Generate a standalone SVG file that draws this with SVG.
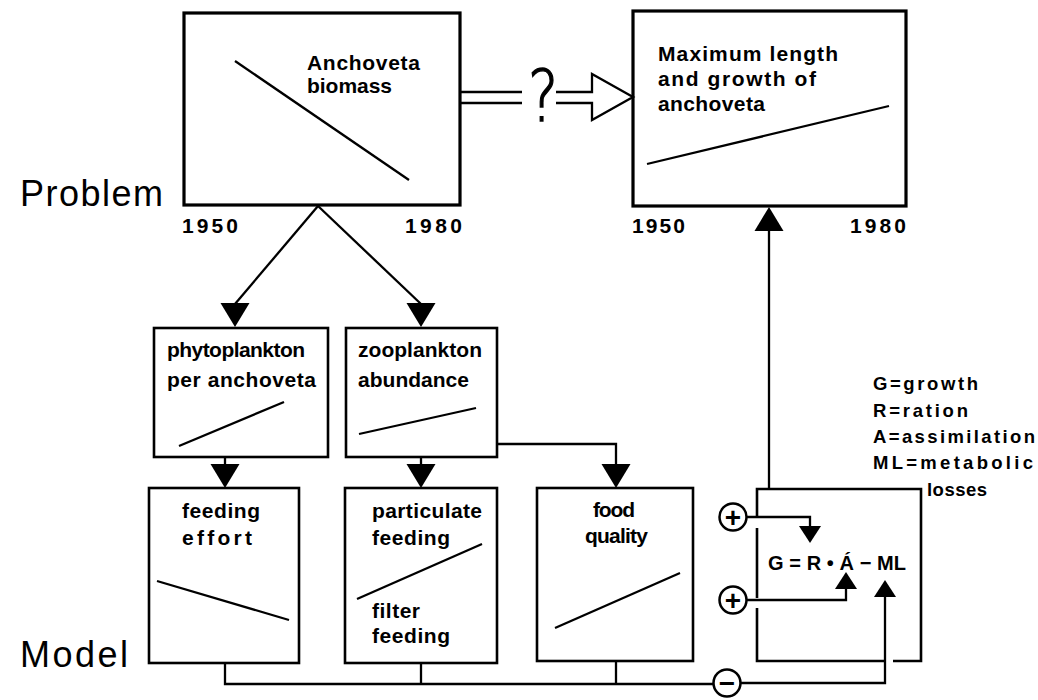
<svg xmlns="http://www.w3.org/2000/svg" xmlns:xlink="http://www.w3.org/1999/xlink" width="1038" height="700" viewBox="0 0 1038 700">
<style>
.box{fill:none;stroke:#000;stroke-width:3.2}
.bx2{fill:none;stroke:#000;stroke-width:2.6}
.ln{fill:none;stroke:#000;stroke-width:2.3}
.t{font-family:"Liberation Sans",Arial,sans-serif;font-weight:bold;font-size:21px;fill:#000}
.lg{font-size:18.5px}
.eq{font-size:20px}
.yr{font-size:21px}
.hd{font-family:"Liberation Sans",Arial,sans-serif;font-weight:normal;font-size:36px;fill:#000}
.sg{font-family:"Liberation Sans",Arial,sans-serif;font-weight:bold;font-size:28px;fill:#000;text-anchor:middle}
.circ{fill:#fff;stroke:#000;stroke-width:2.5}
</style>
<defs>
<path id="ah" d="M-14.5,-24 L14.5,-24 L0,0 Z" fill="#000"/>
<path id="ahs" d="M-11,-17 L11,-17 L0,0 Z" fill="#000"/>
</defs>
<rect width="1038" height="700" fill="#fff"/>

<text class="hd" x="20" y="206" textLength="143">Problem</text>
<text class="hd" x="20" y="667" textLength="108">Model</text>

<g id="anchoveta-biomass">
<rect class="box" x="184" y="13" width="276" height="192"/>
<line class="ln" x1="235" y1="61" x2="409" y2="180"/>
<text class="t" x="307" y="70" textLength="113">Anchoveta</text>
<text class="t" x="307" y="93" textLength="85">biomass</text>
<text class="t yr" x="182" y="233" textLength="56">1950</text>
<text class="t yr" x="405" y="233" textLength="57">1980</text>
</g>

<g id="max-length">
<rect class="box" x="633" y="11" width="273" height="195"/>
<line class="ln" x1="647" y1="164" x2="889" y2="106"/>
<text class="t" x="658" y="61" textLength="180">Maximum length</text>
<text class="t" x="658" y="86" textLength="158">and growth of</text>
<text class="t" x="658" y="111" textLength="107">anchoveta</text>
<text class="t yr" x="632" y="233" textLength="53">1950</text>
<text class="t yr" x="850" y="233" textLength="56">1980</text>
</g>

<g id="phytoplankton">
<rect class="bx2" x="154" y="328" width="174" height="129"/>
<text class="t" x="167" y="357" textLength="138">phytoplankton</text>
<text class="t" x="167" y="387" textLength="149">per anchoveta</text>
<line class="ln" x1="179" y1="446" x2="284" y2="402"/>
</g>

<g id="zooplankton">
<rect class="bx2" x="346" y="328" width="151" height="129"/>
<text class="t" x="358" y="357" textLength="124">zooplankton</text>
<text class="t" x="358" y="387" textLength="111">abundance</text>
<line class="ln" x1="359" y1="434" x2="476" y2="408"/>
</g>

<g id="feeding-effort">
<rect class="bx2" x="149" y="488" width="150" height="175"/>
<text class="t" x="182" y="518" textLength="78">feeding</text>
<text class="t" x="182" y="545" textLength="70">effort</text>
<line class="ln" x1="157" y1="581" x2="289" y2="620"/>
</g>

<g id="particulate-feeding">
<rect class="bx2" x="345" y="488" width="152" height="175"/>
<text class="t" x="372" y="518" textLength="110">particulate</text>
<text class="t" x="372" y="545" textLength="78">feeding</text>
<line class="ln" x1="357" y1="599" x2="482" y2="544"/>
<text class="t" x="372" y="618" textLength="48">filter</text>
<text class="t" x="372" y="643" textLength="78">feeding</text>
</g>

<g id="food-quality">
<rect class="bx2" x="537" y="488" width="156" height="173"/>
<text class="t" x="593" y="517" textLength="42">food</text>
<text class="t" x="585" y="543" textLength="63">quality</text>
<line class="ln" x1="555" y1="628" x2="680" y2="573"/>
</g>

<g id="growth-model">
<path class="bx2" d="M757,517 V489 H921 V661 H893 M886,661 H757 V608 M757,598 V528"/>
<text class="t eq" x="768" y="570" textLength="138">G = R • Á − ML</text>
</g>

<g id="legend">
<text class="t lg" x="873" y="390" textLength="105">G=growth</text>
<text class="t lg" x="873" y="417" textLength="95">R=ration</text>
<text class="t lg" x="873" y="443" textLength="162">A=assimilation</text>
<text class="t lg" x="873" y="469" textLength="160">ML=metabolic</text>
<text class="t lg" x="927" y="496" textLength="60">losses</text>
</g>

<g id="signs">
<circle class="circ" cx="733" cy="517" r="13.5"/>
<text class="sg" x="733" y="527">+</text>
<circle class="circ" cx="733" cy="600" r="13.5"/>
<text class="sg" x="733" y="610">+</text>
<circle class="circ" cx="727" cy="683" r="13.5"/>
<text class="sg" x="727" y="693">−</text>
</g>

<g id="connectors">
<line class="ln" x1="460" y1="92" x2="522" y2="92"/>
<line class="ln" x1="460" y1="103" x2="522" y2="103"/>
<text x="543" y="121" font-family="DejaVu Sans" font-weight="200" font-size="72" stroke="#000" stroke-width="1.4" text-anchor="middle" transform="translate(543 0) scale(0.8 1) translate(-543 0)">?</text>
<path class="ln" d="M556,92 H592 V74 L633,97 L592,120 V103 H556"/>

<line class="ln" x1="318" y1="206" x2="235" y2="304"/>
<use xlink:href="#ah" transform="translate(235 327)"/>
<line class="ln" x1="318" y1="206" x2="421" y2="304"/>
<use xlink:href="#ah" transform="translate(421 327)"/>

<line class="ln" x1="225" y1="457" x2="225" y2="466"/>
<use xlink:href="#ah" transform="translate(225 488)"/>
<line class="ln" x1="421" y1="457" x2="421" y2="466"/>
<use xlink:href="#ah" transform="translate(421 488)"/>

<polyline class="ln" points="497,444 616,444 616,465"/>
<use xlink:href="#ah" transform="translate(616 488)"/>

<line class="ln" x1="769" y1="489" x2="769" y2="230"/>
<use xlink:href="#ah" transform="translate(769 207) rotate(180)"/>

<polyline class="ln" points="747,517 810,517 810,527"/>
<use xlink:href="#ahs" transform="translate(810 543)"/>
<polyline class="ln" points="747,600 846,600 846,588"/>
<use xlink:href="#ahs" transform="translate(846 572) rotate(180)"/>
<polyline class="ln" points="741,683 885,683 885,596"/>
<use xlink:href="#ahs" transform="translate(885 580) rotate(180)"/>

<polyline class="ln" points="225,663 225,684 713,684"/>
<line class="ln" x1="421" y1="663" x2="421" y2="684"/>
<line class="ln" x1="616" y1="661" x2="616" y2="684"/>
</g>
</svg>
